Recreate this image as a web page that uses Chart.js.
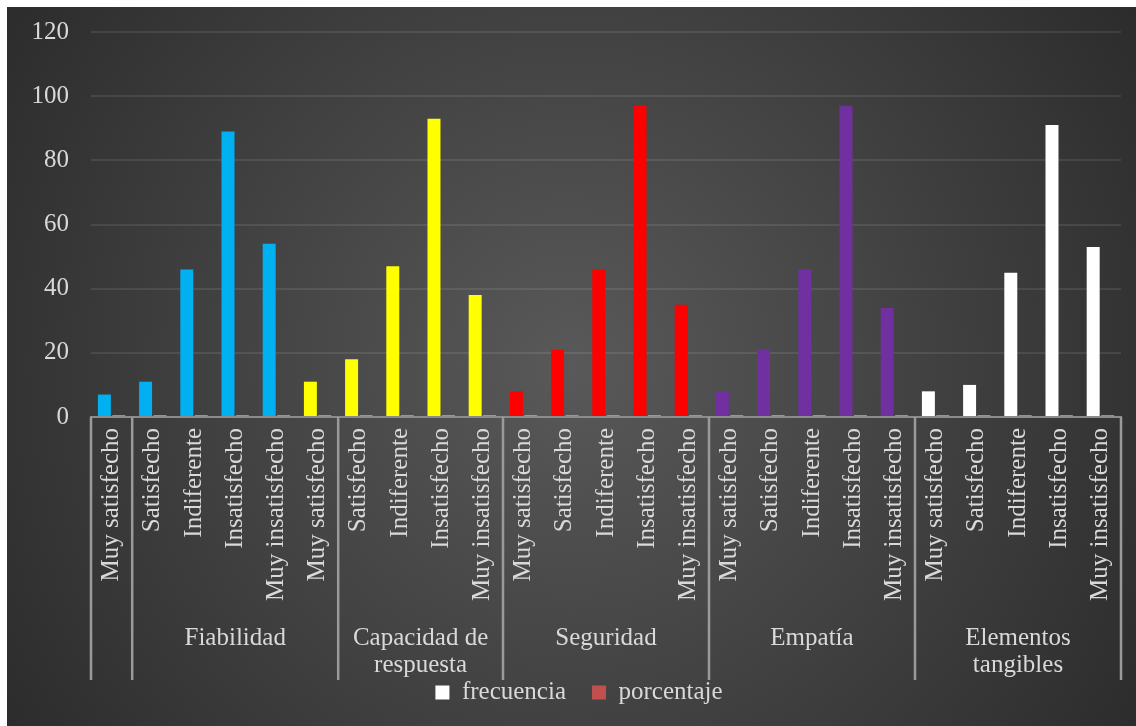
<!DOCTYPE html>
<html>
<head>
<meta charset="utf-8">
<script src="https://cdn.jsdelivr.net/npm/chart.js@4"></script>
<style>
  body { margin: 0; background: #fff; }
  #wrap { position: absolute; left: 7px; top: 7px; }
</style>
</head>
<body>
<div id="wrap"><canvas id="chart" width="1129" height="719"></canvas></div>
<script>
const labels = [
  'Muy satisfecho',
  'Satisfecho', 'Indiferente', 'Insatisfecho', 'Muy insatisfecho', 'Muy satisfecho',
  'Satisfecho', 'Indiferente', 'Insatisfecho', 'Muy insatisfecho',
  'Muy satisfecho', 'Satisfecho', 'Indiferente', 'Insatisfecho', 'Muy insatisfecho',
  'Muy satisfecho', 'Satisfecho', 'Indiferente', 'Insatisfecho', 'Muy insatisfecho',
  'Muy satisfecho', 'Satisfecho', 'Indiferente', 'Insatisfecho', 'Muy insatisfecho'
];

// group name, first index, last index
const groups = [
  { name: [''], from: 0, to: 0 },
  { name: ['Fiabilidad'], from: 1, to: 5 },
  { name: ['Capacidad de', 'respuesta'], from: 6, to: 9 },
  { name: ['Seguridad'], from: 10, to: 14 },
  { name: ['Empatía'], from: 15, to: 19 },
  { name: ['Elementos', 'tangibles'], from: 20, to: 24 }
];

const frecuencia = [7, 11, 46, 89, 54, 11, 18, 47, 93, 38, 8, 21, 46, 97, 35, 8, 21, 46, 97, 34, 8, 10, 45, 91, 53];
const porcentaje = [0.03, 0.05, 0.22, 0.43, 0.26, 0.05, 0.09, 0.23, 0.45, 0.18, 0.04, 0.10, 0.22, 0.47, 0.17, 0.04, 0.10, 0.22, 0.47, 0.16, 0.04, 0.05, 0.22, 0.44, 0.26];

const barColors = [
  '#00b0f0', '#00b0f0', '#00b0f0', '#00b0f0', '#00b0f0',
  '#ffff00', '#ffff00', '#ffff00', '#ffff00', '#ffff00',
  '#ff0000', '#ff0000', '#ff0000', '#ff0000', '#ff0000',
  '#7030a0', '#7030a0', '#7030a0', '#7030a0', '#7030a0',
  '#ffffff', '#ffffff', '#ffffff', '#ffffff', '#ffffff'
];

const FONT = 'Liberation Serif';
const SIZE = 25;
const TEXT = '#d9d9d9';

const background = {
  id: 'background',
  beforeDraw(chart) {
    const { ctx, width, height } = chart;
    const g = ctx.createRadialGradient(width / 2, height / 2, 0, width / 2, height / 2, 700);
    g.addColorStop(0, '#595959');
    g.addColorStop(1, '#2a2a2a');
    ctx.save();
    ctx.fillStyle = g;
    ctx.fillRect(0, 0, width, height);
    ctx.restore();
  }
};

// legend sits a bit right of the canvas centre
const legendShift = {
  id: 'legendShift',
  afterLayout(chart) {
    if (chart.legend) {
      chart.legend.left += 15;
      chart.legend.right += 15;
    }
  }
};

// second level of the category axis: separators and group names
const groupAxis = {
  id: 'groupAxis',
  afterDraw(chart) {
    const { ctx, chartArea } = chart;
    const x = chart.scales.x;
    const step = x.width / labels.length;
    const bottom = 673;
    ctx.save();
    ctx.strokeStyle = '#9a9a9a';
    ctx.lineWidth = 2.5;
    const edges = [groups[0].from].concat(groups.map(g => g.to + 1));
    edges.forEach(i => {
      const px = x.getPixelForValue(i) - step / 2;
      ctx.beginPath();
      ctx.moveTo(px, chartArea.bottom);
      ctx.lineTo(px, bottom);
      ctx.stroke();
    });
    ctx.fillStyle = TEXT;
    ctx.font = SIZE + 'px "' + FONT + '"';
    ctx.textAlign = 'center';
    ctx.textBaseline = 'middle';
    groups.forEach(g => {
      const cx = (x.getPixelForValue(g.from) + x.getPixelForValue(g.to)) / 2;
      g.name.forEach((line, k) => ctx.fillText(line, cx, 631 + k * 27));
    });
    ctx.restore();
  }
};

new Chart(document.getElementById('chart'), {
  type: 'bar',
  data: {
    labels: labels,
    datasets: [
      {
        label: 'frecuencia',
        data: frecuencia,
        backgroundColor: barColors,
        categoryPercentage: 0.7,
        barPercentage: 0.9
      },
      {
        label: 'porcentaje',
        data: porcentaje,
        backgroundColor: 'rgba(240, 150, 150, 0.75)',
        minBarLength: 2,
        categoryPercentage: 0.7,
        barPercentage: 0.9
      }
    ]
  },
  options: {
    responsive: false,
    animation: false,
    layout: { padding: { top: 25, right: 15, left: 0, bottom: 11 } },
    plugins: {
      tooltip: { enabled: false },
      legend: {
        position: 'bottom',
        labels: {
          color: TEXT,
          font: { family: FONT, size: SIZE },
          boxWidth: 14,
          boxHeight: 14,
          padding: 26,
          generateLabels() {
            return [
              { text: 'frecuencia', fillStyle: '#ffffff', strokeStyle: '#ffffff', lineWidth: 0, fontColor: TEXT, datasetIndex: 0 },
              { text: 'porcentaje', fillStyle: '#c0504d', strokeStyle: '#c0504d', lineWidth: 0, fontColor: TEXT, datasetIndex: 1 }
            ];
          }
        }
      }
    },
    scales: {
      x: {
        grid: { display: false },
        border: { display: true, color: '#8c8c8c', width: 2 },
        ticks: {
          color: TEXT,
          font: { family: FONT, size: SIZE },
          autoSkip: false,
          minRotation: 90,
          maxRotation: 90,
          padding: 3
        },
        afterFit(scale) {
          const lg = scale.chart.legend;
          scale.height = scale.chart.height - 11 - 410 - (lg ? lg.height : 0);
          scale.paddingLeft = 0;
          scale.paddingRight = 0;
        }
      },
      y: {
        min: 0,
        max: 120,
        ticks: {
          stepSize: 20,
          color: TEXT,
          font: { family: FONT, size: SIZE },
          padding: 22
        },
        grid: { color: 'rgba(255, 255, 255, 0.09)', lineWidth: 2, drawTicks: false },
        border: { display: false },
        afterFit(scale) {
          scale.width = 84;
          scale.paddingTop = 0;
          scale.paddingBottom = 0;
        }
      }
    }
  },
  plugins: [background, legendShift, groupAxis]
});
</script>
</body>
</html>
